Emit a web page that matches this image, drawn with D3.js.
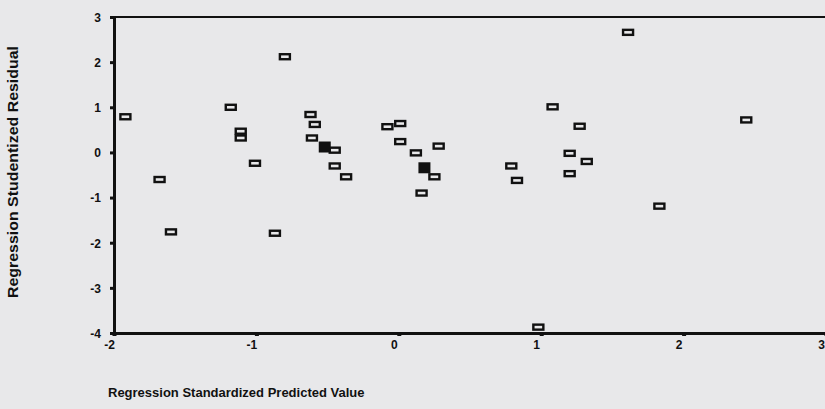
<!DOCTYPE html>
<html>
<head>
<meta charset="utf-8">
<script src="https://cdn.jsdelivr.net/npm/d3@7"></script>
<style>
  body { margin: 0; background: #e8e8ea; overflow: hidden; }
  svg { display: block; }
  text { font-family: Arial, "Liberation Sans", sans-serif; font-weight: bold; fill: #111; }
</style>
</head>
<body>
<svg id="chart"></svg>
<script>
// standardized predicted value (x) and studentized residual (y), hollow markers
const predicted = [-1.92, -1.68, -1.60, -1.18, -1.11, -1.11, -1.01, -0.87, -0.80, -0.62,
  -0.59, -0.61, -0.45, -0.45, -0.37, -0.08, 0.01, 0.01, 0.12, 0.28,
  0.25, 0.16, 0.79, 0.83, 0.98, 1.08, 1.27, 1.20, 1.32, 1.20,
  1.61, 1.83, 2.44];
const residual = [0.79, -0.60, -1.76, 1.00, 0.47, 0.32, -0.24, -1.79, 2.12, 0.84,
  0.62, 0.32, 0.05, -0.30, -0.54, 0.57, 0.64, 0.24, -0.01, 0.14,
  -0.54, -0.90, -0.30, -0.62, -3.87, 1.01, 0.58, -0.02, -0.20, -0.47,
  2.66, -1.19, 0.72];
// overlapping cases drawn as solid blobs
const predictedDense = [-0.52, 0.18];
const residualDense = [0.12, -0.34];

const xTicks = [-2, -1, 0, 1, 2, 3];
const yTicks = [3, 2, 1, 0, -1, -2, -3, -4];
const xTitle = "Regression Standardized Predicted Value";
const yTitle = "Regression Studentized Residual";

const width = 825, height = 409;
const plot = {left: 114, right: 826, top: 17, bottom: 333};

const svg = d3.select("#chart").attr("width", width).attr("height", height);

const x = d3.scaleLinear().domain([-2, 3]).range([plot.left, plot.right]);
const y = d3.scaleLinear().domain([-4, 3]).range([plot.bottom, plot.top]);

// top frame line
svg.append("line")
  .attr("x1", plot.left).attr("x2", width)
  .attr("y1", plot.top).attr("y2", plot.top)
  .attr("stroke", "#111").attr("stroke-width", 2);

// plain hyphen for negatives, like the original
const fmt = d => String(d);

const yAxis = d3.axisLeft(y).tickValues(yTicks).tickFormat(fmt)
  .tickSize(4).tickSizeOuter(0).tickPadding(9);
const gy = svg.append("g").attr("transform", `translate(${plot.left},0)`).call(yAxis);
gy.select(".domain").attr("stroke", "#111").attr("stroke-width", 3);
gy.selectAll(".tick line").attr("stroke", "#111").attr("stroke-width", 3);
gy.selectAll(".tick text").attr("font-size", 12).attr("dy", "0.36em").attr("fill", "#111");

const xAxis = d3.axisBottom(x).tickValues(xTicks).tickFormat(fmt)
  .tickSize(3).tickSizeOuter(0).tickPadding(4);
const gx = svg.append("g").attr("transform", `translate(0,${plot.bottom})`).call(xAxis);
gx.select(".domain").attr("stroke", "#111").attr("stroke-width", 3);
gx.selectAll(".tick line").attr("stroke", "#111").attr("stroke-width", 4);
gx.selectAll(".tick text").attr("font-size", 12).attr("dx", -5).attr("fill", "#111");

// axis titles
svg.append("text")
  .attr("x", 108).attr("y", 397)
  .attr("font-size", 13)
  .text(xTitle);

svg.append("text")
  .attr("transform", "translate(18,172) rotate(-90)")
  .attr("text-anchor", "middle")
  .attr("font-size", 14)
  .attr("textLength", 252)
  .attr("lengthAdjust", "spacingAndGlyphs")
  .text(yTitle);

// hollow markers
const pts = predicted.map((p, i) => ({ p, r: residual[i] }));
svg.append("g").selectAll("rect")
  .data(pts)
  .enter().append("rect")
  .attr("x", d => x(d.p) - 5)
  .attr("y", d => y(d.r) - 2.5)
  .attr("width", 10)
  .attr("height", 5)
  .attr("fill", "none")
  .attr("stroke", "#111")
  .attr("stroke-width", 2.4);

// dense (overlapping) markers
const dense = predictedDense.map((p, i) => ({ p, r: residualDense[i] }));
svg.append("g").selectAll("rect")
  .data(dense)
  .enter().append("rect")
  .attr("x", d => x(d.p) - 6)
  .attr("y", d => y(d.r) - 5.5)
  .attr("width", 12)
  .attr("height", 11)
  .attr("fill", "#111");
</script>
</body>
</html>
